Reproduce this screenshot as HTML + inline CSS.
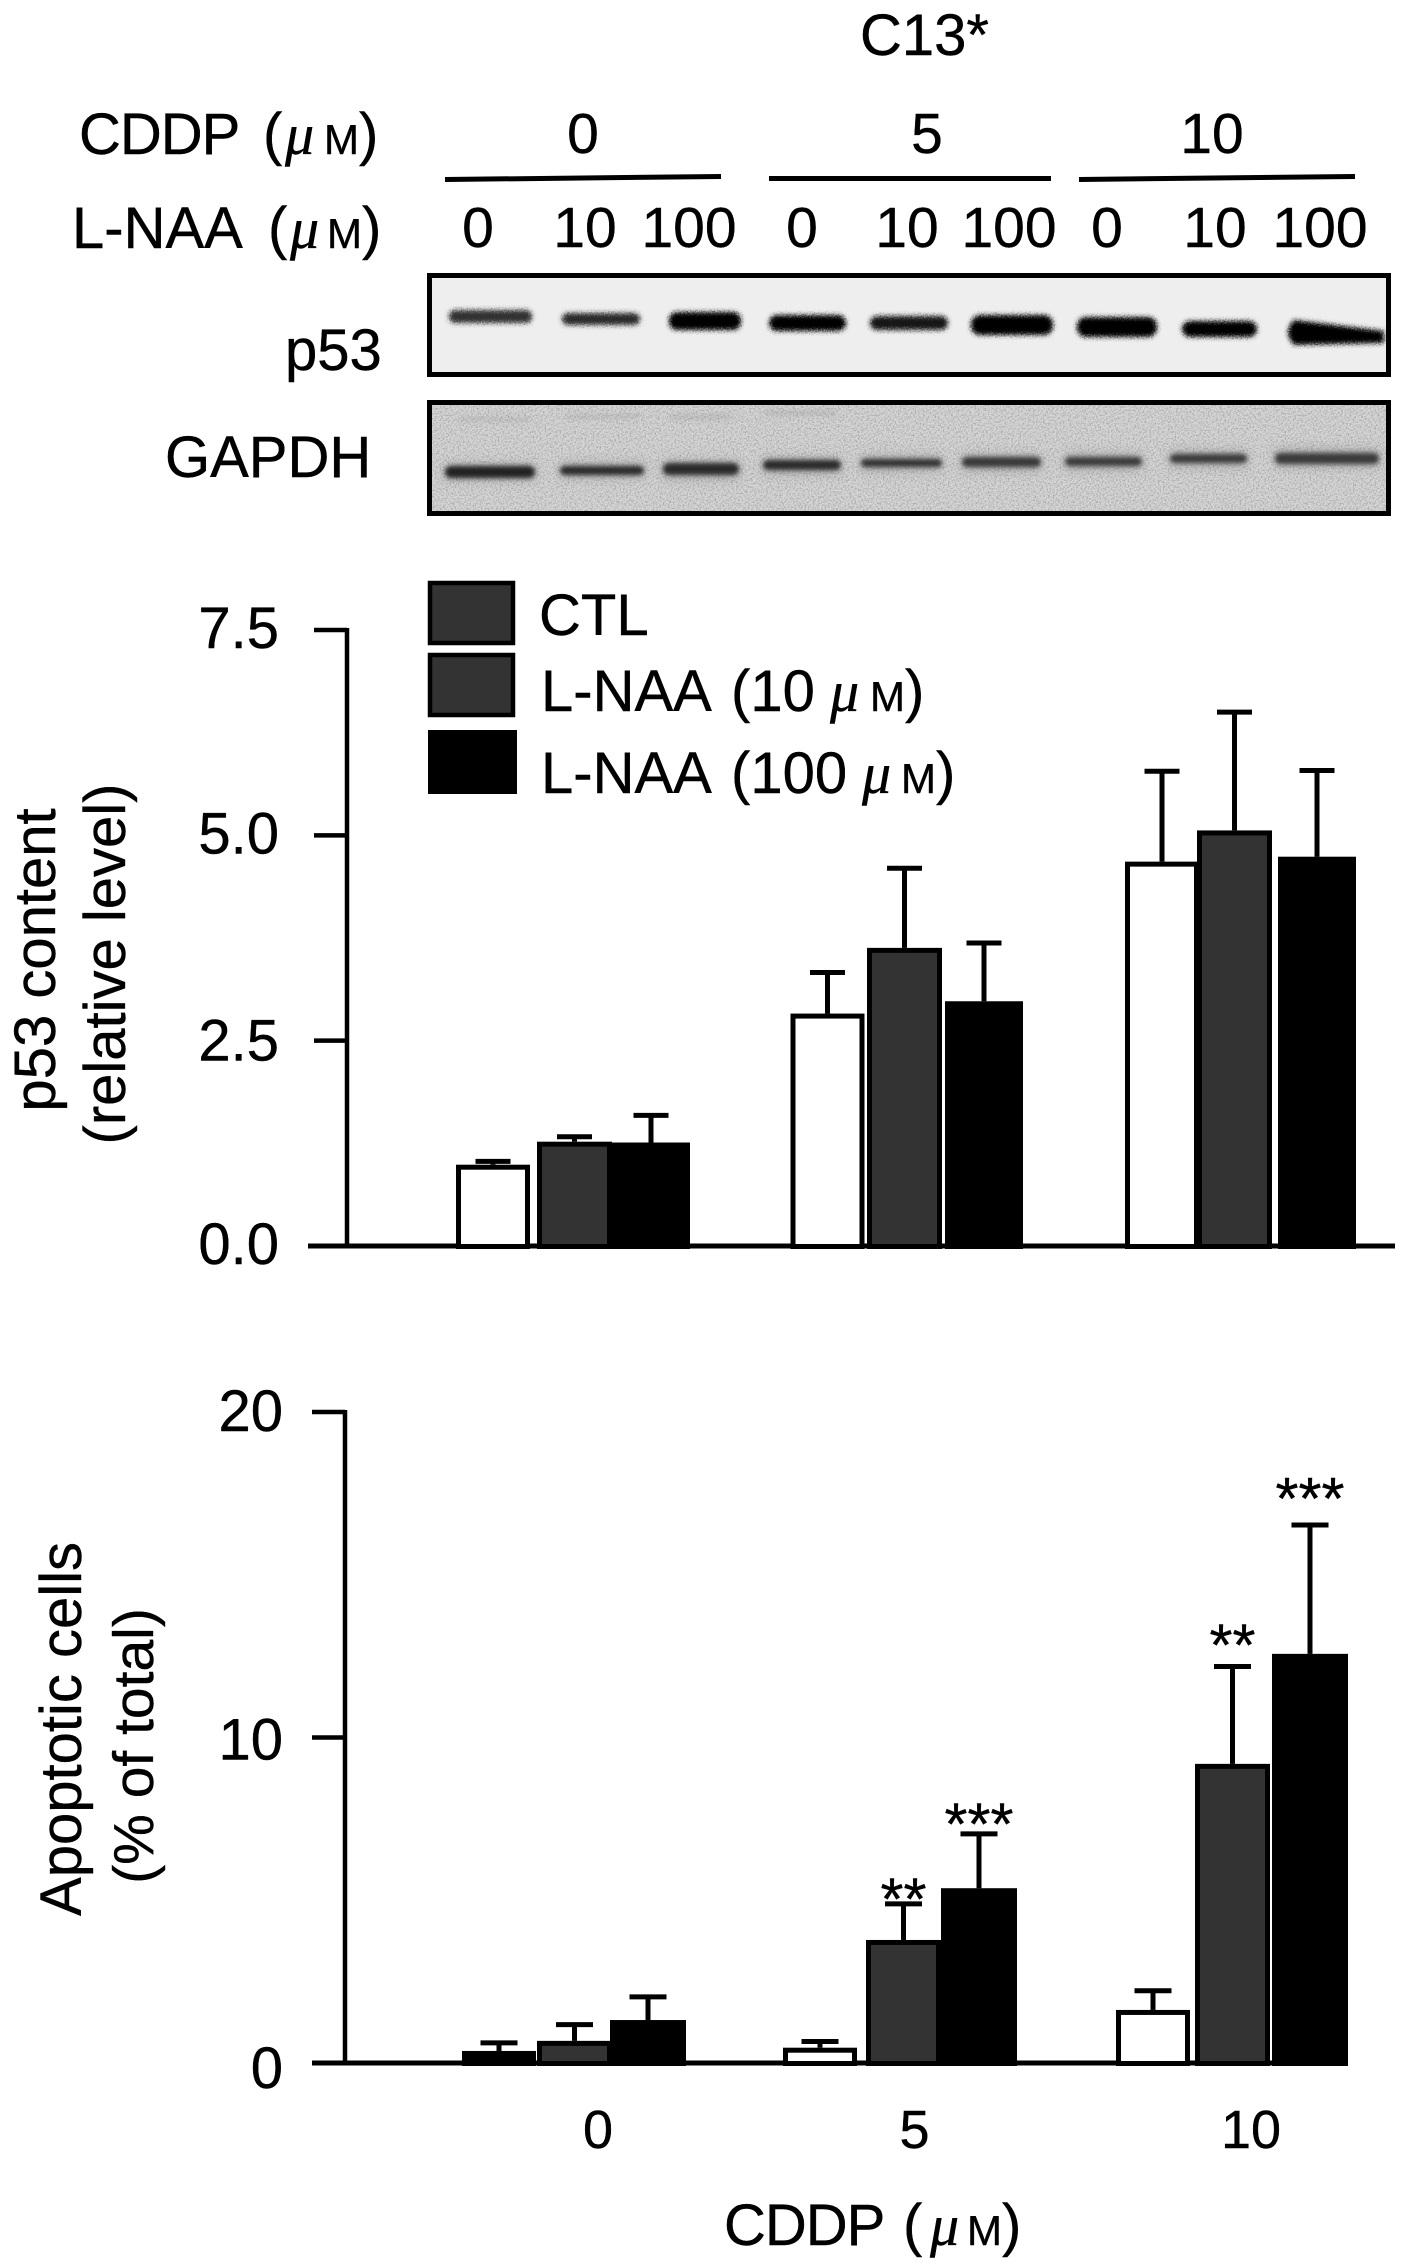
<!DOCTYPE html>
<html lang="en">
<head>
<meta charset="utf-8">
<title>p53 content and apoptotic cells in C13* cells</title>
<style>
html,body{margin:0;padding:0;background:#fff;}
svg{display:block;}
text{font-family:"Liberation Sans",sans-serif;fill:#000;stroke:#000;stroke-width:.4px;}
.mu{font-family:"Liberation Serif",serif;font-style:italic;}
</style>
</head>
<body>
<svg id="figure" xmlns="http://www.w3.org/2000/svg" width="1412" height="2264" viewBox="0 0 1412 2264">
<defs>
  <filter id="rough" x="-20%" y="-100%" width="140%" height="300%">
    <feGaussianBlur stdDeviation="2.5" result="b"/>
    <feTurbulence type="fractalNoise" baseFrequency="0.7" numOctaves="2" seed="4" result="n"/>
    <feDisplacementMap in="b" in2="n" scale="5" xChannelSelector="R" yChannelSelector="G"/>
  </filter>
  <filter id="soft" x="-20%" y="-150%" width="140%" height="400%">
    <feGaussianBlur stdDeviation="2.4"/>
  </filter>
  <filter id="halo" x="-20%" y="-200%" width="140%" height="500%">
    <feGaussianBlur stdDeviation="6"/>
  </filter>
  <filter id="grain" x="0" y="0" width="100%" height="100%">
    <feTurbulence type="fractalNoise" baseFrequency="0.6" numOctaves="3" seed="9"/>
    <feColorMatrix type="matrix" values="0 0 0 0 0  0 0 0 0 0  0 0 0 0 0  0.6 0 0 0 -0.25"/>
  </filter>
</defs>

<!-- top labels -->
<g id="header" font-size="58">
  <text x="860" y="55" font-size="58">C13*</text>
  <text x="79" y="154" letter-spacing="-1">CDDP <tspan x="263">(</tspan><tspan class="mu" x="285">μ</tspan><tspan x="324" font-size="42" letter-spacing="0">M</tspan><tspan>)</tspan></text>
  <text x="72" y="248">L-NAA <tspan x="268">(</tspan><tspan class="mu" x="290">μ</tspan><tspan x="327" font-size="42">M</tspan><tspan>)</tspan></text>
  <g font-size="57" text-anchor="middle">
    <text x="583" y="153">0</text>
    <text x="927" y="153">5</text>
    <text x="1212" y="153">10</text>
    <text x="478" y="247">0</text>
    <text x="585" y="247">10</text>
    <text x="689" y="247">100</text>
    <text x="802" y="247">0</text>
    <text x="907" y="247">10</text>
    <text x="1009" y="247">100</text>
    <text x="1107" y="247">0</text>
    <text x="1215" y="247">10</text>
    <text x="1320" y="247">100</text>
  </g>
  <g stroke="#000" stroke-width="5">
    <line x1="445" y1="179.5" x2="721" y2="176.5"/>
    <line x1="769" y1="178.5" x2="1051" y2="178.5"/>
    <line x1="1079" y1="179.5" x2="1355" y2="176.5"/>
  </g>
</g>

<!-- p53 blot -->
<g id="blot-p53">
  <text x="285" y="370" font-size="58">p53</text>
  <rect x="429.5" y="275.5" width="959" height="99" fill="#eee" stroke="#000" stroke-width="5"/>
  <g filter="url(#rough)">
    <rect x="449" y="310" width="83" height="13" rx="6" fill="#333"/>
    <rect x="562" y="313" width="78" height="12" rx="6" fill="#2a2a2a"/>
    <rect x="669" y="312" width="72" height="18" rx="8" fill="#000"/>
    <rect x="769" y="315" width="77" height="16" rx="8" fill="#000"/>
    <rect x="870" y="316" width="78" height="14" rx="7" fill="#151515"/>
    <rect x="971" y="315" width="82" height="20" rx="9" fill="#000"/>
    <rect x="1077" y="317" width="80" height="20" rx="9" fill="#000"/>
    <rect x="1182" y="321" width="75" height="16" rx="8" fill="#000"/>
    <path d="M1294 320 L1384 331 L1384 343 L1294 345 Q1282 332 1294 320 Z" fill="#000"/>
  </g>
</g>

<!-- GAPDH blot -->
<g id="blot-gapdh">
  <text x="165" y="477" font-size="58">GAPDH</text>
  <rect x="432" y="405" width="954" height="106" fill="#d6d6d6"/>
  <rect x="432" y="405" width="954" height="106" filter="url(#grain)"/>
  <g filter="url(#soft)" fill="#999" opacity=".3">
    <rect x="460" y="417" width="70" height="5"/>
    <rect x="565" y="414" width="75" height="5"/>
    <rect x="670" y="414" width="62" height="6"/>
    <rect x="765" y="410" width="72" height="6"/>
  </g>
  <g filter="url(#halo)" fill="#666" opacity=".4">
    <rect x="445" y="465" width="90" height="14"/>
    <rect x="560" y="464" width="84" height="13"/>
    <rect x="663" y="462" width="76" height="16"/>
    <rect x="763" y="459" width="78" height="14"/>
    <rect x="861" y="457" width="81" height="13"/>
    <rect x="962" y="456" width="79" height="14"/>
    <rect x="1065" y="455" width="77" height="14"/>
    <rect x="1170" y="452" width="77" height="14"/>
    <rect x="1275" y="450" width="104" height="16"/>
  </g>
  <g filter="url(#soft)">
    <rect x="445" y="466" width="90" height="12" rx="6" fill="#222"/>
    <rect x="560" y="466" width="84" height="9" rx="4.5" fill="#2c2c2c"/>
    <rect x="663" y="463" width="76" height="12" rx="6" fill="#2a2a2a"/>
    <rect x="763" y="460" width="78" height="10" rx="5" fill="#2a2a2a"/>
    <rect x="861" y="459" width="81" height="8" rx="4" fill="#303030"/>
    <rect x="962" y="457" width="79" height="10" rx="5" fill="#383838"/>
    <rect x="1065" y="457" width="77" height="9" rx="4.5" fill="#3a3a3a"/>
    <rect x="1170" y="454" width="77" height="9" rx="4.5" fill="#3a3a3a"/>
    <rect x="1275" y="453" width="104" height="11" rx="5" fill="#3a3a3a"/>
  </g>
  <rect x="429.5" y="402.5" width="959" height="111" fill="none" stroke="#000" stroke-width="5"/>
</g>

<!-- p53 chart -->
<g id="chart-p53">
  <g font-size="58">
    <text transform="translate(55 960) rotate(-90)" text-anchor="middle">p53 content</text>
    <text transform="translate(125 964) rotate(-90)" text-anchor="middle">(relative level)</text>
  </g>
  <g id="p53-axes"></g>
  <g id="p53-marks"></g>
  <g id="legend" font-size="58">
    <g>
      <rect x="430" y="583" width="83" height="60" fill="#333" stroke="#000" stroke-width="4.5"/>
      <text x="539" y="635">CTL</text>
    </g>
    <g>
      <rect x="430" y="655" width="83" height="60" fill="#333" stroke="#000" stroke-width="4.5"/>
      <text x="541" y="711">L-NAA <tspan x="731">(10</tspan><tspan class="mu" x="830">μ</tspan><tspan x="870" font-size="42">M</tspan><tspan>)</tspan></text>
    </g>
    <g>
      <rect x="428" y="730" width="89" height="64" fill="#000"/>
      <text x="541" y="793">L-NAA <tspan x="731">(100</tspan><tspan class="mu" x="862">μ</tspan><tspan x="901" font-size="42">M</tspan><tspan>)</tspan></text>
    </g>
  </g>
</g>

<!-- apoptosis chart -->
<g id="chart-apop">
  <text transform="translate(81 1729) rotate(-90)" text-anchor="middle" font-size="58">Apoptotic cells</text>
  <text transform="translate(153 1746) rotate(-90)" text-anchor="middle" font-size="57">(% of total)</text>
  <g id="apop-axes"></g>
  <g id="apop-marks"></g>
  <text x="724" y="2245" font-size="58" letter-spacing="-1">CDDP <tspan x="903">(</tspan><tspan class="mu" x="930">μ</tspan><tspan x="967" font-size="42" letter-spacing="0">M</tspan><tspan>)</tspan></text>
</g>
</svg>

<script>
// ---- data ----
const categories = ['0', '5', '10'];
const seriesNames = ['ctl', 'lnaa-10', 'lnaa-100'];

const p53TickValues = [0, 2.5, 5, 7.5];
const p53TickLabels = ['0.0', '2.5', '5.0', '7.5'];
const p53Ctl = [0.99, 2.83, 4.68];
const p53Naa10 = [1.27, 3.63, 5.06];
const p53Naa100 = [1.26, 2.98, 4.74];
const p53CtlErr = [0.04, 0.50, 1.10];
const p53Naa10Err = [0.06, 0.97, 1.44];
const p53Naa100Err = [0.33, 0.71, 1.05];

const apopTickValues = [0, 10, 20];
const apopTickLabels = ['0', '10', '20'];
const apopCtl = [0.37, 0.47, 1.63];
const apopNaa10 = [0.68, 3.78, 9.19];
const apopNaa100 = [1.32, 5.37, 12.57];
const apopCtlErr = [0.25, 0.19, 0.59];
const apopNaa10Err = [0.50, 1.11, 2.99];
const apopNaa100Err = [0.71, 1.67, 3.96];

// significance marks: series index, category index, label, level on the y axis
const sigSeries = [1, 2, 1, 2];
const sigCategory = [1, 1, 2, 2];
const sigLabels = ['**', '***', '**', '***'];
const sigLevels = [5.3, 7.6, 13.1, 17.6];

// ---- axis functions ----
const p53Y = v => 1246 - v * 82.13;
const apopY = v => 2063 - v * 32.55;
const p53BarLeft = (g, s) => [456, 537, 612][s] + g * [334.5, 330, 333][s];
const p53BarWidth = s => [74, 75, 78][s];
const apopBarLeft = (g, s) => [462, 537, 610][s] + g * [327, 329, 331][s] - (s === 0 && g === 1 ? 6 : 0);
const apopBarWidth = s => [74, 75, 76][s];
const apopLabelX = g => 598 + g * 326.5 - (g === 1 ? 10 : 0);

const NS = 'http://www.w3.org/2000/svg';
const seriesFill = ['#fff', '#333', '#000'];

function make(tag, attrs, parent) {
  const el = document.createElementNS(NS, tag);
  for (const k in attrs) el.setAttribute(k, attrs[k]);
  parent.appendChild(el);
  return el;
}

function drawAxes(parent, yFn, tickValues, tickLabels, axisX, tickLeft, zeroLeft, xEnd, labelX, labelNudge) {
  const yAxis = make('line', {x1: axisX, x2: axisX, y1: yFn(tickValues[tickValues.length - 1]) - 2, y2: yFn(0) + 2, stroke: '#000', 'stroke-width': 4.5}, parent);
  
  
  const xAxis = make('line', {x1: zeroLeft, x2: xEnd, y1: yFn(0), y2: yFn(0), stroke: '#000', 'stroke-width': 5}, parent);
  
  
  tickValues.forEach((v, i) => {
    if (v !== 0) {
      const t = make('line', {x1: tickLeft, x2: axisX, y1: yFn(v), y2: yFn(v), stroke: '#000', 'stroke-width': 4.5}, parent);
      
      
    }
    const lab = make('text', {x: labelX, y: yFn(v) + labelNudge[i], 'text-anchor': 'end', 'font-size': 58}, parent);
    lab.textContent = tickLabels[i];
    
    
  });
}

function drawBars(parent, prefix, yFn, leftFn, widthFn, means, errs, capW) {
  means.forEach((vals, s) => {
    vals.forEach((v, g) => {
      const left = leftFn(g, s);
      const w = widthFn(s);
      const cx = left + w / 2;
      const topY = yFn(v);
      const errY = yFn(v + errs[s][g]);
      const stem = make('line', {x1: cx, x2: cx, y1: topY, y2: errY, stroke: '#000', 'stroke-width': 5}, parent);
      
      
      const cap = make('line', {x1: cx - capW / 2, x2: cx + capW / 2, y1: errY, y2: errY, stroke: '#000', 'stroke-width': 5}, parent);
      
      
    });
  });
  means.forEach((vals, s) => {
    vals.forEach((v, g) => {
      const left = leftFn(g, s);
      const w = widthFn(s);
      const topY = yFn(v);
      const bottom = yFn(0) + 3;
      // a bar this short is only its outline in the figure, so it reads as solid
      const tiny = bottom - topY < 17;
      const bar = make('rect', {
        x: left + 2.5, y: topY + 2.5, width: w - 5, height: Math.max(bottom - topY - 5, 0.5),
        fill: tiny ? '#000' : seriesFill[s], stroke: '#000', 'stroke-width': 5
      }, parent);
      
      
    });
  });
}

// ---- p53 chart ----
const p53Axes = document.getElementById('p53-axes');
const p53Marks = document.getElementById('p53-marks');
drawAxes(p53Axes, p53Y, p53TickValues, p53TickLabels, 347, 314, 308, 1395, 279, [18, 20, 18, 18]);
drawBars(p53Marks, 'p53', p53Y, p53BarLeft, p53BarWidth, [p53Ctl, p53Naa10, p53Naa100], [p53CtlErr, p53Naa10Err, p53Naa100Err], 35);

// ---- apoptosis chart ----
const apopAxes = document.getElementById('apop-axes');
const apopMarks = document.getElementById('apop-marks');
drawAxes(apopAxes, apopY, apopTickValues, apopTickLabels, 345, 312, 312, 1347, 283, [25, 22, 19]);
drawBars(apopMarks, 'apoptosis', apopY, apopBarLeft, apopBarWidth, [apopCtl, apopNaa10, apopNaa100], [apopCtlErr, apopNaa10Err, apopNaa100Err], 37);

categories.forEach((c, g) => {
  const lab = make('text', {x: apopLabelX(g), y: 2148, 'text-anchor': 'middle', 'font-size': 54}, apopAxes);
  lab.textContent = c;
  
  
});

sigLabels.forEach((label, i) => {
  const s = sigSeries[i];
  const g = sigCategory[i];
  const sig = make('text', {
    x: apopBarLeft(g, s) + apopBarWidth(s) / 2,
    y: apopY(sigLevels[i]) + 29,
    'text-anchor': 'middle', 'font-size': 59
  }, apopMarks);
  sig.textContent = label;
  
  
});
</script>
</body>
</html>
